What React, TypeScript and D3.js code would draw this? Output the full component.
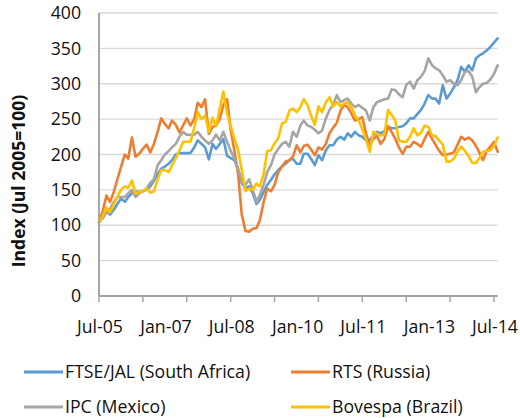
import * as d3 from "d3";

// monthly index values, Jul-05 .. Aug-14 (Jul 2005 = 100)
const startMonth = new Date(2005, 6, 1);

const ftse = [
  104, 115, 120, 115, 122, 130, 138, 133, 140, 145,
  148, 147, 148, 150, 155, 163, 172, 180, 183, 187,
  192, 200, 202, 202, 202, 202, 210, 220, 215, 210,
  193, 215, 208, 215, 222, 198, 195, 192, 178, 160,
  152, 155, 145, 130, 136, 147, 157, 164, 172, 178,
  183, 187, 192, 194, 187, 187, 201, 201, 194, 185,
  199, 192, 206, 213, 213, 221, 225, 221, 230, 225,
  232, 227, 225, 220, 220, 227, 232, 230, 233, 239,
  237, 237, 239, 240, 244, 251, 251, 257, 263, 272,
  284, 279, 279, 272, 298, 279, 286, 295, 305, 324,
  317, 326, 319, 336, 340, 343, 347, 352, 358, 364,
];

const rts = [
  104, 120, 142, 133, 147, 165, 183, 200, 194, 224,
  197, 201, 208, 214, 203, 215, 232, 251, 243, 237,
  248, 242, 231, 241, 251, 241, 250, 273, 267, 278,
  229, 239, 241, 250, 270, 278, 235, 205, 172, 115,
  92, 91, 95, 96, 107, 133, 152, 148, 157, 175,
  183, 190, 192, 197, 213, 203, 212, 214, 207, 199,
  210, 207, 215, 230, 238, 245, 262, 270, 267, 258,
  248, 250, 253, 230, 213, 222, 226, 215, 222, 240,
  232, 222, 210, 201, 211, 211, 218, 215, 211, 222,
  232, 222, 214, 205, 199, 200, 201, 203, 214, 225,
  221, 224, 220, 212, 203, 192, 205, 211, 218, 204,
];

const ipc = [
  104, 110, 118, 123, 133, 140, 140, 140, 145, 150,
  140, 145, 148, 152, 160, 165, 185, 192, 200, 205,
  210, 215, 225, 232, 228, 228, 228, 232, 225, 220,
  215, 220, 228, 220, 232, 218, 205, 195, 180, 162,
  157, 165, 150, 133, 143, 157, 175, 185, 200, 208,
  215, 218, 211, 232, 225, 241, 248, 241, 239, 235,
  230, 234, 251, 263, 270, 284, 274, 277, 279, 272,
  267, 270, 266, 262, 248, 267, 274, 276, 278, 279,
  292, 291, 285, 281, 298, 303, 293, 305, 310, 318,
  336, 326, 322, 319, 312, 303, 305, 300, 298, 305,
  317, 318, 310, 288, 295, 300, 301, 306, 314, 326,
];

const bovespa = [
  104, 113, 125, 118, 130, 140, 150, 155, 153, 163,
  145, 147, 148, 152, 146, 148, 165, 178, 178, 175,
  185, 195, 205, 218, 218, 218, 237, 260, 250, 255,
  232, 252, 240, 265, 289, 258, 240, 222, 206, 178,
  148, 152, 150, 159, 155, 172, 205, 206, 216, 223,
  244, 246, 262, 265, 260, 267, 278, 270, 255, 242,
  268, 260, 274, 281, 268, 274, 268, 272, 274, 267,
  255, 248, 236, 222, 204, 232, 229, 227, 228, 263,
  256, 248, 220, 218, 218, 225, 237, 227, 231, 241,
  239, 227, 226, 220, 214, 190, 190, 194, 204, 211,
  205, 198, 188, 188, 195, 204, 205, 206, 212, 224,
];

const seriesNames = ["FTSE/JAL (South Africa)", "RTS (Russia)", "IPC (Mexico)", "Bovespa (Brazil)"];
const seriesValues = [ftse, rts, ipc, bovespa];
const colors = ["#5B9BD5", "#ED7D31", "#A5A5A5", "#FFC000"];

const xLabels = ["Jul-05", "Jan-07", "Jul-08", "Jan-10", "Jul-11", "Jan-13", "Jul-14"];
const yTicks = [0, 50, 100, 150, 200, 250, 300, 350, 400];

const font = "'Open Sans', sans-serif";

const App = () => {
  const left = 99;
  const right = 497.7;
  const top = 13;
  const bottom = 296;

  const month = (i: number) => d3.timeMonth.offset(startMonth, i);

  const x = d3.scaleTime()
    .domain([month(0), month(109)])
    .range([left, right]);

  const y = d3.scaleLinear()
    .domain([0, 400])
    .range([bottom, top]);

  const line = d3.line<number>()
    .x((d, i) => x(month(i)))
    .y(d => y(d));

  // tick marks every year, labels every 18 months
  const tickMarks = d3.range(0, 109, 12).map(month);
  const labelDates = xLabels.map((_, i) => month(i * 18));

  return (
    <svg width={520} height={418} style={{ position: "absolute", left: 0, top: 0 }} fontFamily={font}>
      <rect width={520} height={418} fill="#fff" />

      {yTicks.filter(t => t > 0).map(t => (
        <line key={t} x1={left} x2={right} y1={y(t)} y2={y(t)} stroke="#D9D9D9" strokeWidth={1.4} />
      ))}

      {yTicks.map(t => (
        <text key={t} x={81} y={y(t)} dy="0.35em" textAnchor="end" fontSize={17.7} fill="#111">{t}</text>
      ))}

      {seriesValues.map((vals, k) => (
        <path key={seriesNames[k]} d={line(vals) ?? ""} fill="none" stroke={colors[k]}
          strokeWidth={2.6} strokeLinejoin="round" strokeLinecap="round" />
      ))}

      <line x1={left} x2={left} y1={top} y2={bottom} stroke="#A6A6A6" strokeWidth={2} />
      <line x1={left} x2={right} y1={bottom} y2={bottom} stroke="#A6A6A6" strokeWidth={2} />
      {tickMarks.map((d, i) => (
        <line key={i} x1={x(d)} x2={x(d)} y1={bottom} y2={bottom + 6} stroke="#A6A6A6" strokeWidth={1.5} />
      ))}

      {labelDates.map((d, i) => (
        <text key={xLabels[i]} x={x(d) + 1} y={333} textAnchor="middle" fontSize={17.7} fill="#111">{xLabels[i]}</text>
      ))}

      <text transform="translate(25,181) rotate(-90)" textAnchor="middle" fontSize={17.5}
        fontWeight="bold" fill="#111">Index (Jul 2005=100)</text>

      {seriesNames.map((name, k) => {
        const lx = k % 2 === 0 ? 24 : 291;
        const ly = k < 2 ? 372 : 407;
        return (
          <g key={name}>
            <line x1={lx} x2={lx + 39} y1={ly} y2={ly} stroke={colors[k]} strokeWidth={3} />
            <text x={lx + 41} y={ly} dy="0.35em" fontSize={17.7} fill="#111">{name}</text>
          </g>
        );
      })}
    </svg>
  );
};

export default App;
